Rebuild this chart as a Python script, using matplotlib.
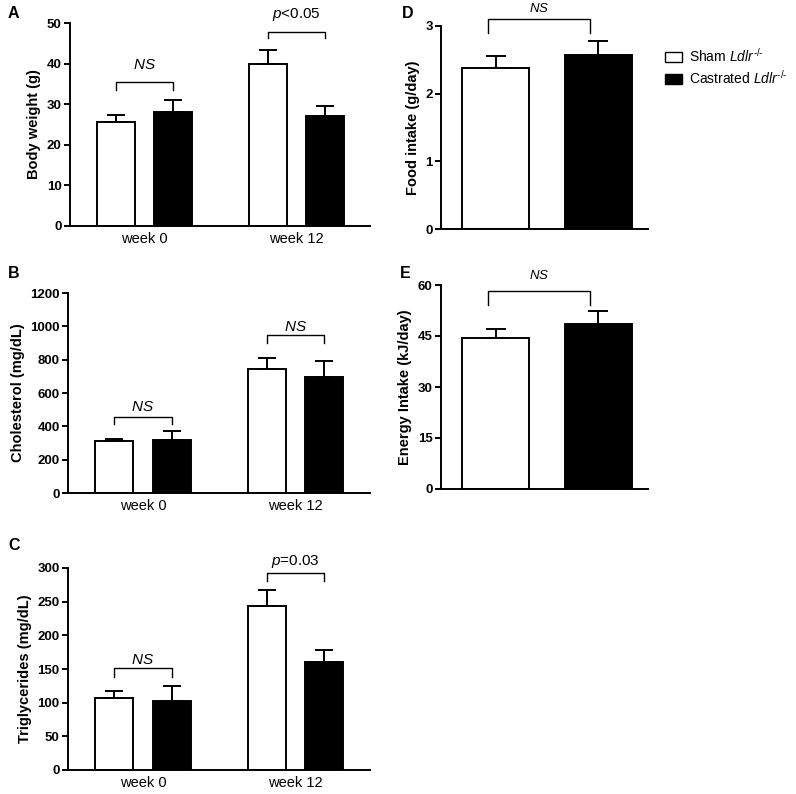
import matplotlib
matplotlib.use("Agg")
import matplotlib.pyplot as plt
from matplotlib.patches import Patch

plt.rcParams['font.family'] = ['Liberation Sans', 'DejaVu Sans']
plt.rcParams['mathtext.fontset'] = 'custom'
plt.rcParams['mathtext.rm'] = 'Liberation Sans'
plt.rcParams['mathtext.it'] = 'Liberation Sans:italic'
plt.rcParams['mathtext.bf'] = 'Liberation Sans:bold'

# ---------------- data ----------------
groups = ["week 0", "week 12"]
series = ["Sham $\\it{Ldlr}^{\u2010/\u2010}$", "Castrated $\\it{Ldlr}^{\u2010/\u2010}$"]

bw_sham = [25.5, 40.0]
bw_sham_err = [1.8, 3.3]
bw_cast = [28.0, 27.0]
bw_cast_err = [3.0, 2.5]

chol_sham = [310, 745]
chol_sham_err = [15, 65]
chol_cast = [320, 695]
chol_cast_err = [50, 95]

tg_sham = [107, 244]
tg_sham_err = [10, 23]
tg_cast = [103, 160]
tg_cast_err = [22, 18]

food = [2.38, 2.57]
food_err = [0.17, 0.21]
energy = [44.5, 48.5]
energy_err = [2.6, 4.0]

# annotations: (text, bracket y, leg bottom y, text y)
ann_A = [("$\\it{NS}$", 35.5, 33.5, 39.7), ("$\\it{p}$<0.05", 47.8, 46.3, 52.0)]
ann_B = [("$\\it{NS}$", 458, 414, 518), ("$\\it{NS}$", 948, 902, 998)]
ann_C = [("$\\it{NS}$", 151, 138.6, 163), ("$\\it{p}$=0.03", 292, 281, 309)]
ann_D = ("$\\it{NS}$", 3.11, 2.89, 3.26)
ann_E = ("$\\it{NS}$", 58.3, 54.1, 62.9)

# ---------------- style ----------------
W, H = 796, 794
fig = plt.figure(figsize=(W / 100, H / 100), dpi=100)

def ax_px(l, r, t, b):
    return fig.add_axes([l / W, 1 - b / H, (r - l) / W, (b - t) / H])

LW = 1.4
TICKFS = 9.5
CAP = 6.8

def style(ax, ylim, yticks, ylabel):
    ax.set_ylim(*ylim)
    ax.set_yticks(yticks)
    for s in ['top', 'right']:
        ax.spines[s].set_visible(False)
    for s in ['left', 'bottom']:
        ax.spines[s].set_linewidth(LW)
    ax.tick_params(axis='y', direction='out', length=4, width=LW, labelsize=TICKFS, pad=2)
    for lab in ax.get_yticklabels():
        lab.set_fontweight('bold')
    ax.set_ylabel(ylabel, fontsize=10.5, fontweight='bold', labelpad=4)

def bracket(ax, x1, x2, y, ylow, text, ty, fs=11):
    ax.plot([x1, x1, x2, x2], [ylow, y, y, ylow], color='black', lw=1.0, clip_on=False)
    ax.text((x1 + x2) / 2, ty, text, ha='center', va='center', fontsize=fs, clip_on=False)

def grouped(ax, sham, sham_err, cast, cast_err, anns):
    centers = [0.745, 2.26]
    off = 0.285
    width = 0.38
    xs = [c - off for c in centers]
    xc = [c + off for c in centers]
    ax.bar(xs, sham, width, color='white', edgecolor='black', linewidth=LW, zorder=2)
    ax.bar(xc, cast, width, color='black', edgecolor='black', linewidth=LW, zorder=2)
    ax.errorbar(xs, sham, yerr=[[0] * len(sham), sham_err], fmt='none', ecolor='black',
                elinewidth=LW, capsize=CAP, capthick=LW, zorder=3)
    ax.errorbar(xc, cast, yerr=[[0] * len(cast), cast_err], fmt='none', ecolor='black',
                elinewidth=LW, capsize=CAP, capthick=LW, zorder=3)
    ax.set_xlim(0, 3)
    ax.set_xticks(centers)
    ax.set_xticklabels(groups, fontsize=10.5)
    ax.tick_params(axis='x', length=0, pad=4)
    for i, (t, y, yl, ty) in enumerate(anns):
        bracket(ax, xs[i], xc[i], y, yl, t, ty)

# Panel A
axA = ax_px(70, 370, 23, 226)
grouped(axA, bw_sham, bw_sham_err, bw_cast, bw_cast_err, ann_A)
style(axA, (0, 50), [0, 10, 20, 30, 40, 50], "Body weight (g)")

# Panel B
axB = ax_px(68, 370, 293, 493)
grouped(axB, chol_sham, chol_sham_err, chol_cast, chol_cast_err, ann_B)
style(axB, (0, 1200), [0, 200, 400, 600, 800, 1000, 1200], "Cholesterol (mg/dL)")

# Panel C
axC = ax_px(68, 370, 568, 770)
grouped(axC, tg_sham, tg_sham_err, tg_cast, tg_cast_err, ann_C)
style(axC, (0, 300), [0, 50, 100, 150, 200, 250, 300], "Triglycerides (mg/dL)")

def single(ax, vals, errs, ann):
    xpos = [0.545, 1.57]
    width = 0.67
    ax.bar([xpos[0]], [vals[0]], width, color='white', edgecolor='black', linewidth=LW, zorder=2)
    ax.bar([xpos[1]], [vals[1]], width, color='black', edgecolor='black', linewidth=LW, zorder=2)
    ax.errorbar(xpos, vals, yerr=[[0, 0], errs], fmt='none', ecolor='black',
                elinewidth=LW, capsize=7.5, capthick=LW, zorder=3)
    ax.set_xlim(0, 2.07)
    ax.set_xticks([])
    t, y, yl, ty = ann
    bracket(ax, xpos[0] - 0.08, xpos[1] - 0.08, y, yl, t, ty, fs=9.5)

# Panel D
axD = ax_px(441, 648, 26, 229)
single(axD, food, food_err, ann_D)
style(axD, (0, 3), [0, 1, 2, 3], "Food intake (g/day)")

# Panel E
axE = ax_px(441, 648, 285, 489)
single(axE, energy, energy_err, ann_E)
style(axE, (0, 60), [0, 15, 30, 45, 60], "Energy Intake (kJ/day)")

# panel letters
for letter, x, y in [("A", 8, 14), ("B", 8, 273), ("C", 8, 546), ("D", 402, 14), ("E", 400, 273)]:
    fig.text(x / W, 1 - y / H, letter, fontsize=11.5, fontweight='bold', ha='left', va='center')

# legend
handles = [Patch(facecolor='white', edgecolor='black', linewidth=1.0),
           Patch(facecolor='black', edgecolor='black', linewidth=1.0)]
fig.legend(handles, series, loc='upper left', bbox_to_anchor=(665 / W, 1 - 47 / H),
           frameon=False, fontsize=10, handlelength=1.25, handleheight=0.72,
           handletextpad=0.45, labelspacing=0.28, borderaxespad=0, borderpad=0)

fig.savefig("out.png", dpi=100)
